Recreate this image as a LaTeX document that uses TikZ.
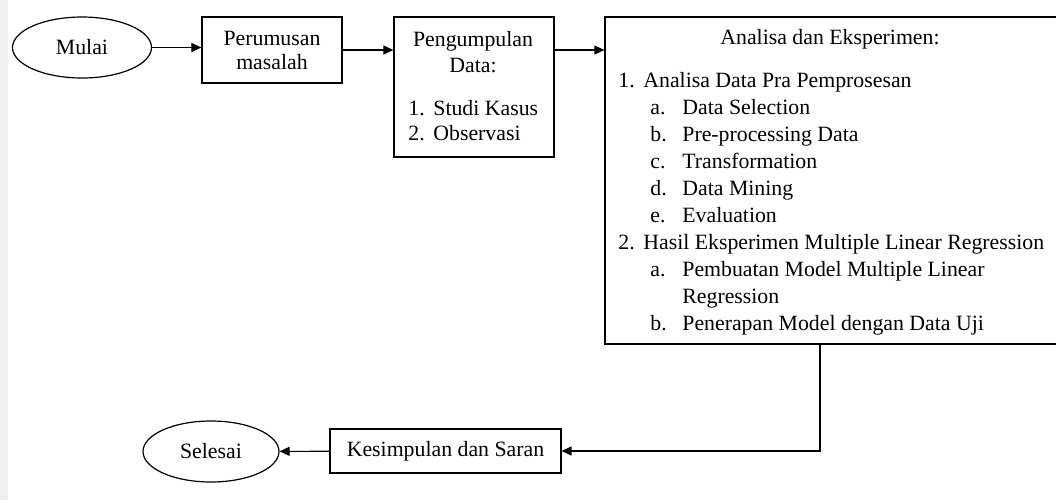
\documentclass[tikz,border=0pt]{standalone}
\usepackage{fontspec}
\setmainfont{Liberation Serif}
\usetikzlibrary{shapes.geometric,arrows.meta,positioning}

\begin{document}
\begin{tikzpicture}[x=0.5pt, y=-0.5pt, font=\fontsize{10.9}{12}\selectfont,
  mulaiselesai/.style={ellipse, draw, line width=0.6pt, minimum width=69.5pt, minimum height=30.5pt, inner sep=0pt},
  kotak/.style={rectangle, draw, line width=0.6pt, inner sep=0pt},
  panah/.style={-{Triangle[length=5pt,width=4.5pt]}, line width=0.55pt},
  baris/.style={anchor=base west, inner sep=0pt},
  judul/.style={anchor=base, inner sep=0pt}]
\clip (0,0) rectangle (1056,500);
\fill[gray!12] (0,0) rectangle (8,500);

% alur atas
\node[mulaiselesai] (mulai) at (82,47.5) {Mulai};
\node[kotak, minimum width=70pt, minimum height=33pt] (rumusan) at (272,50) {};
\node[judul] (rumusan-1) at (272,45) {Perumusan};
\node[judul] (rumusan-2) at (272,69) {masalah};
\node[kotak, minimum width=80pt, minimum height=70pt] (kumpul) at (474,87) {};
\node[judul] (kumpul-1) at (473,46) {Pengumpulan};
\node[judul] (kumpul-2) at (473,72) {Data:};
\node[baris] (studi-no) at (408,115) {1.};
\node[baris] (studi) at (433,115) {Studi Kasus};
\node[baris] (obs-no) at (408,140) {2.};
\node[baris] (obs) at (433,140) {Observasi};

% kotak analisa
\node[kotak, minimum width=226.5pt, minimum height=163.5pt] (analisa) at (831.5,180.5) {};
\node[judul] (analisa-judul) at (830,44) {Analisa dan Eksperimen:};
\foreach \y/\no/\isi in {87/1./Analisa Data Pra Pemprosesan, 249/2./Hasil Eksperimen Multiple Linear Regression}
  {\node[baris] (no-\y) at (618,\y) {\no};
   \node[baris] (isi-\y) at (643,\y) {\isi};}
\foreach \y/\no/\isi in {114/a./Data Selection, 141/b./Pre-processing Data, 168/c./Transformation, 195/d./Data Mining, 222/e./Evaluation, 276/a./Pembuatan Model Multiple Linear, 330/b./Penerapan Model dengan Data Uji}
  {\node[baris] (no-\y) at (650,\y) {\no};
   \node[baris] (isi-\y) at (682,\y) {\isi};}
\node[baris] (isi-303) at (682,303) {Regression};

% alur bawah
\node[kotak, minimum width=115.5pt, minimum height=22pt] (simpulan) at (445.5,451) {Kesimpulan dan Saran};
\node[mulaiselesai, minimum width=68pt] (selesai) at (211,451.5) {Selesai};
\coordinate (belok) at (820,451);

\draw[panah] (mulai) -- (rumusan.west |- mulai);
\draw[panah] (rumusan) -- (kumpul.west |- rumusan);
\draw[panah] (kumpul.east |- rumusan) -- (analisa.west |- rumusan);
\draw[panah] (analisa.south -| belok) -- (belok) -- (simpulan.east);
\draw[panah] (simpulan) -- (selesai);
\end{tikzpicture}
\end{document}
